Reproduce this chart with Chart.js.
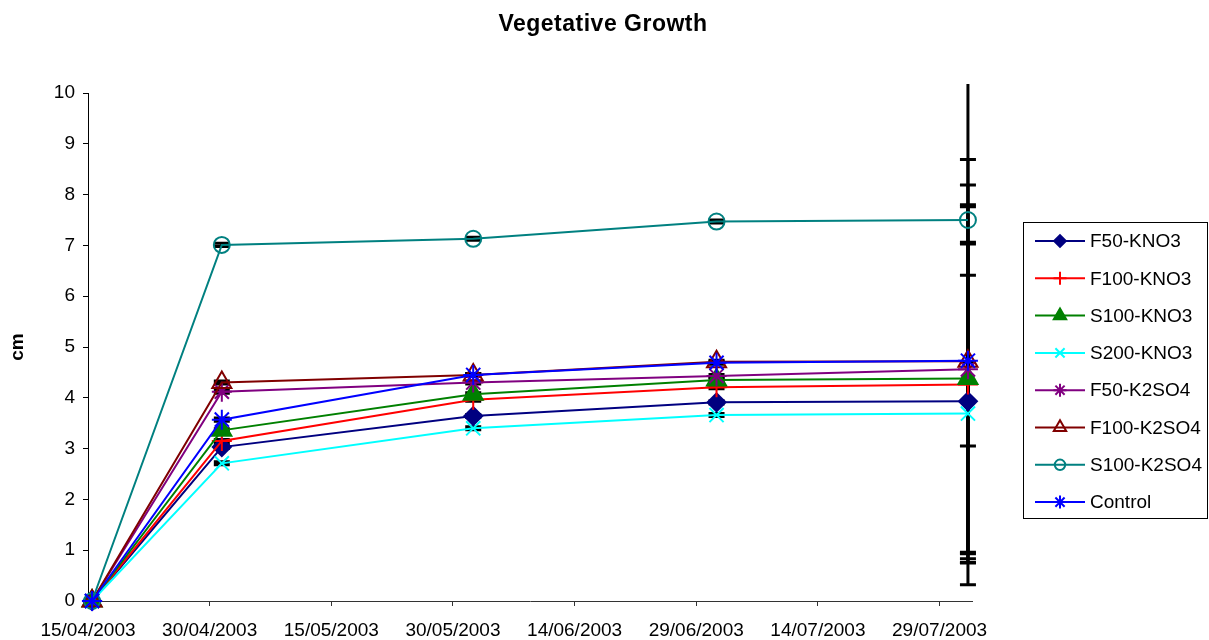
<!DOCTYPE html>
<html lang="en">
<head>
  <meta charset="UTF-8">
  <title>Vegetative Growth</title>
  <style>
    body {
      margin: 0;
      background: #fff;
    }
    .chart-box {
      width: 1209px;
      height: 640px;
    }
  </style>
</head>
<body>
  <div class="chart-box">
    <canvas id="growthChart" width="1209" height="640"></canvas>
  </div>

  <script src="https://cdn.jsdelivr.net/npm/chart.js"></script>
  <script>
    // Sampling dates (dd/mm/yyyy)
    const sampleDates = ['15/04/2003', '01/05/2003', '01/06/2003', '01/07/2003', '01/08/2003'];
    const seriesNames = ['F50-KNO3', 'F100-KNO3', 'S100-KNO3', 'S200-KNO3', 'F50-K2SO4', 'F100-K2SO4', 'S100-K2SO4', 'Control'];

    // Heights in cm
    const f50Kno3   = [0, 3.03, 3.64, 3.91, 3.93];
    const f100Kno3  = [0, 3.15, 3.96, 4.21, 4.26];
    const s100Kno3  = [0, 3.36, 4.07, 4.35, 4.38];
    const s200Kno3  = [0, 2.71, 3.40, 3.66, 3.69];
    const f50K2so4  = [0, 4.12, 4.30, 4.43, 4.56];
    const f100K2so4 = [0, 4.30, 4.45, 4.71, 4.72];
    const s100K2so4 = [0, 7.01, 7.13, 7.47, 7.50];
    const control   = [0, 3.57, 4.45, 4.69, 4.73];

    // Error bar half-lengths (cm)
    const errF50Kno3   = [0, 0.03, 0.03, 0.03, 3.10];
    const errF100Kno3  = [0, 0.03, 0.03, 0.03, 3.50];
    const errS100Kno3  = [0, 0.03, 0.03, 0.03, 3.42];
    const errS200Kno3  = [0, 0.03, 0.03, 0.03, 3.37];
    const errF50K2so4  = [0, 0.03, 0.03, 0.03, 3.63];
    const errF100K2so4 = [0, 0.03, 0.03, 0.03, 3.97];
    const errS100K2so4 = [0, 0.03, 0.03, 0.03, 2.80];
    const errControl   = [0, 0.03, 0.03, 0.03, 1.68];

    const yTicks = [0, 1, 2, 3, 4, 5, 6, 7, 8, 9, 10];

    const allValues = [f50Kno3, f100Kno3, s100Kno3, s200Kno3, f50K2so4, f100K2so4, s100K2so4, control];
    const allErrors = [errF50Kno3, errF100Kno3, errS100Kno3, errS200Kno3, errF50K2so4, errF100K2so4, errS100K2so4, errControl];

    // Look of each series (Excel defaults)
    const styles = [
      { color: '#000080', fill: '#000080', point: 'rectRot', r: 9 },
      { color: '#FF0000', fill: '#FF0000', point: 'cross', r: 10 },
      { color: '#008000', fill: '#008000', point: 'triangle', r: 11 },
      { color: '#00FFFF', fill: '#00FFFF', point: 'crossRot', r: 10 },
      { color: '#800080', fill: '#800080', point: 'star', r: 10 },
      { color: '#800000', fill: 'rgba(0,0,0,0)', point: 'triangle', r: 11 },
      { color: '#008080', fill: 'rgba(0,0,0,0)', point: 'circle', r: 8 },
      { color: '#0000FF', fill: '#0000FF', point: 'star', r: 10 }
    ];

    const FONT = "'Liberation Sans', Arial, sans-serif";
    const baseDay = Date.UTC(2003, 3, 15);
    const DAY = 86400000;

    function dayNum(s) {
      const [d, m, y] = s.split('/').map(Number);
      return (Date.UTC(y, m - 1, d) - baseDay) / DAY;
    }
    function pad2(n) { return n < 10 ? '0' + n : '' + n; }
    function fmtDay(v) {
      const dt = new Date(baseDay + v * DAY);
      return pad2(dt.getUTCDate()) + '/' + pad2(dt.getUTCMonth() + 1) + '/' + dt.getUTCFullYear();
    }

    // Excel puts points in the middle of their day
    const xDays = sampleDates.map(s => dayNum(s) + 0.5);

    const datasets = seriesNames.map((name, i) => ({
      label: name,
      data: allValues[i].map((v, j) => ({ x: xDays[j], y: v })),
      errors: allErrors[i],
      borderColor: styles[i].color,
      backgroundColor: styles[i].fill,
      pointStyle: styles[i].point,
      pointRadius: styles[i].r,
      pointHoverRadius: styles[i].r,
      pointBorderWidth: 2,
      pointBorderColor: styles[i].color,
      pointBackgroundColor: styles[i].fill,
      borderWidth: 2,
      tension: 0,
      fill: false,
      clip: false,
      order: seriesNames.length - i
    }));

    // Black vertical error bars, drawn under the lines
    const errorBars = {
      id: 'errorBars',
      beforeDatasetsDraw(chart) {
        const { ctx, chartArea, scales } = chart;
        const xs = scales.x, ys = scales.y;
        ctx.save();
        ctx.beginPath();
        ctx.rect(chartArea.left - 20, chartArea.top - 9, chartArea.width + 40, chartArea.height + 20);
        ctx.clip();
        ctx.strokeStyle = '#000';
        ctx.lineWidth = 3;
        chart.data.datasets.forEach(ds => {
          ds.data.forEach((p, j) => {
            const e = ds.errors[j];
            if (!e) return;
            const x = xs.getPixelForValue(p.x);
            const hi = ys.getPixelForValue(p.y + e);
            const lo = ys.getPixelForValue(Math.max(p.y - e, 0));
            ctx.beginPath();
            ctx.moveTo(x, hi);
            ctx.lineTo(x, lo);
            ctx.moveTo(x - 8, hi);
            ctx.lineTo(x + 8, hi);
            if (p.y - e >= 0) {
              ctx.moveTo(x - 8, lo);
              ctx.lineTo(x + 8, lo);
            }
            ctx.stroke();
          });
        });
        ctx.restore();
      }
    };

    // Title centred on the whole canvas, legend box on the right
    const frame = {
      id: 'frame',
      afterDraw(chart) {
        const { ctx, chartArea } = chart;
        ctx.save();
        ctx.fillStyle = '#000';
        ctx.font = 'bold 23px ' + FONT;
        ctx.textAlign = 'center';
        ctx.textBaseline = 'alphabetic';
        if ('letterSpacing' in ctx) ctx.letterSpacing = '0.5px';
        ctx.fillText('Vegetative Growth', 603, 31);
        if ('letterSpacing' in ctx) ctx.letterSpacing = '0px';

        const left = chartArea.right + 51;
        const top = 222;
        const w = 184, h = 296, step = 37.3;
        ctx.strokeStyle = '#000';
        ctx.lineWidth = 1;
        ctx.strokeRect(left + 0.5, top + 0.5, w, h);
        ctx.font = '19px ' + FONT;
        ctx.textAlign = 'left';
        ctx.textBaseline = 'middle';
        seriesNames.forEach((name, i) => {
          const y = top + 19 + i * step;
          const st = styles[i];
          ctx.strokeStyle = st.color;
          ctx.lineWidth = 2;
          ctx.beginPath();
          ctx.moveTo(left + 12, y);
          ctx.lineTo(left + 62, y);
          ctx.stroke();
          ctx.fillStyle = st.fill;
          if (Chart.helpers && Chart.helpers.drawPoint) {
            Chart.helpers.drawPoint(ctx, { pointStyle: st.point, radius: st.r * 0.65, rotation: 0, borderWidth: 2 }, left + 37, y);
          }
          ctx.fillStyle = '#000';
          ctx.fillText(name, left + 67, y + 1);
        });
        ctx.restore();
      }
    };

    const ctx = document.getElementById('growthChart').getContext('2d');
    new Chart(ctx, {
      type: 'line',
      data: { datasets: datasets },
      plugins: [errorBars, frame],
      options: {
        responsive: false,
        animation: false,
        layout: { padding: { left: 0, right: 237, top: 93, bottom: 0 } },
        plugins: {
          legend: { display: false },
          tooltip: { enabled: false },
          title: { display: false }
        },
        scales: {
          x: {
            type: 'linear',
            min: 0,
            max: 109,
            afterFit: s => { s.height = 39; },
            afterBuildTicks: s => { s.ticks = s.ticks.filter(t => t.value % 15 === 0); },
            ticks: {
              stepSize: 15,
              includeBounds: false,
              maxRotation: 0,
              autoSkip: false,
              color: '#000',
              padding: 13,
              font: { family: FONT, size: 19 },
              callback: v => fmtDay(v)
            },
            grid: { drawOnChartArea: false, drawTicks: true, tickLength: 5, color: '#333' },
            border: { display: true, color: '#333' }
          },
          y: {
            min: 0,
            max: 10,
            afterFit: s => { s.width = 88; },
            afterBuildTicks: s => { s.ticks = yTicks.map(v => ({ value: v })); },
            ticks: {
              stepSize: 1,
              color: '#000',
              padding: 8,
              font: { family: FONT, size: 19 }
            },
            grid: { drawOnChartArea: false, drawTicks: true, tickLength: 5, color: '#000' },
            border: { display: true, color: '#000' },
            title: {
              display: true,
              text: 'cm',
              color: '#000',
              font: { family: FONT, size: 19, weight: 'bold' },
              padding: { top: 6, bottom: 0 }
            }
          }
        }
      }
    });
  </script>
</body>
</html>
